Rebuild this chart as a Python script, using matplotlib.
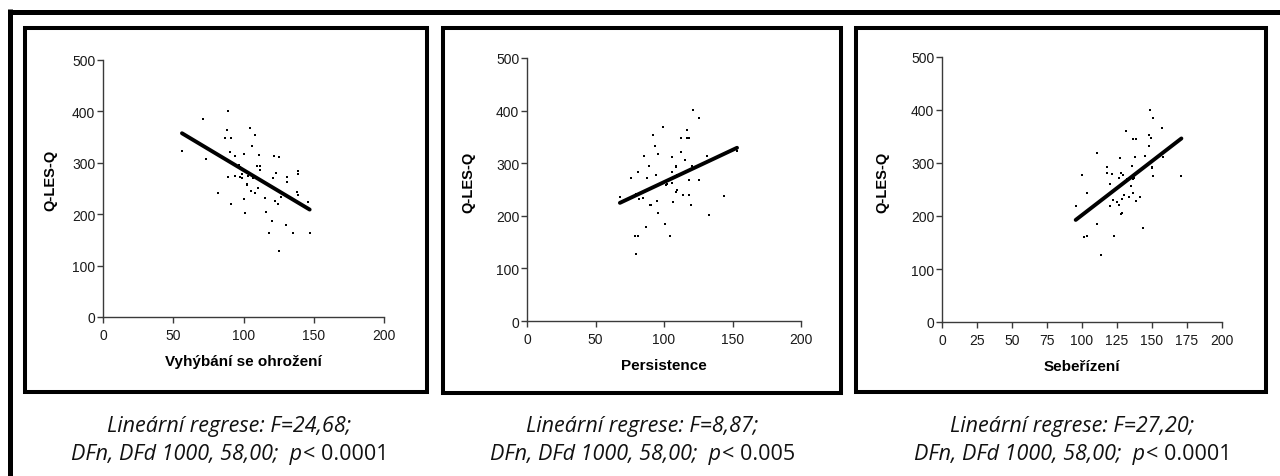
import matplotlib.pyplot as plt
from matplotlib.patches import Rectangle
from matplotlib.lines import Line2D

# --- data ---
ha_x = [56.2, 71.2, 73.1, 82.1, 89.2, 88.0, 87.1, 91.3, 90.2, 94.2, 100.1, 89.0, 91.3,
        96.8, 97.3, 94.2, 97.3, 99.2, 99.2, 100.1, 101.3, 102.3, 102.3, 103.0, 104.4,
        106.3, 108.2, 106.5, 105.1, 108.4, 110.3, 109.8, 111.5, 112.0, 111.3, 115.3,
        116.3, 120.3, 118.4, 121.9, 125.0, 121.2, 123.1, 122.2, 124.3, 125.3, 126.5,
        130.2, 131.2, 131.2, 135.2, 138.6, 138.6, 138.1, 139.0, 146.1, 147.3]
ha_y = [323, 385, 307, 241, 401, 363, 348, 348, 321, 314, 317, 273, 220,
        296, 291, 275, 273, 278, 270, 229, 203, 258, 256, 275, 368,
        333, 354, 271, 245, 241, 251, 293, 293, 286, 315, 232,
        205, 186, 163, 313, 311, 271, 280, 226, 220, 128, 234,
        179, 273, 263, 163, 284, 279, 244, 238, 223, 163]

ps_x = [67.8, 75.8, 80.7, 79.5, 81.9, 84.8, 78.7, 80.9, 79.5, 86.8, 85.5, 88.7, 87.7,
        89.7, 90.4, 91.9, 93.6, 95.5, 94.5, 94.8, 95.5, 99.6, 100.6, 101.6, 102.3,
        104.5, 105.7, 105.7, 105.7, 106.4, 108.4, 108.4, 109.6, 108.6, 109.4, 112.5,
        112.5, 116.6, 116.6, 118.6, 115.4, 113.7, 118.6, 118.6, 119.6, 120.5, 121.5,
        125.6, 125.6, 131.5, 132.7, 143.6, 153.3]
ps_y = [235, 272, 284, 242, 232, 234, 162, 162, 128, 179, 313, 294, 271,
        221, 220, 354, 333, 317, 278, 229, 205, 368, 185, 258, 260,
        162, 311, 283, 262, 227, 294, 292, 277, 245, 249, 322,
        348, 363, 348, 348, 307, 240, 269, 240, 220, 294, 401,
        386, 269, 314, 202, 237, 324]

sr_x = [95.5, 99.8, 103.6, 101.7, 103.8, 110.5, 110.5, 113.8, 117.6, 117.6, 119.7,
        119.7, 121.4, 121.9, 122.6, 124.7, 126.8, 126.6, 126.6, 127.6, 127.8, 128.3,
        129.2, 129.7, 128.7, 131.6, 131.8, 133.5, 134.7, 135.6, 136.6, 138.7, 136.6,
        137.3, 136.1, 137.8, 138.7, 141.6, 143.5, 144.7, 147.5, 148.7, 150.6, 147.5,
        149.6, 150.1, 149.9, 150.6, 156.8, 157.5, 170.5]
sr_y = [218, 277, 243, 161, 162, 319, 185, 127, 293, 282, 260,
        219, 279, 231, 162, 226, 310, 272, 221, 282, 203, 205,
        278, 240, 233, 361, 270, 235, 256, 295, 346, 346, 243,
        272, 269, 312, 228, 236, 178, 314, 353, 400, 385, 332,
        348, 292, 290, 275, 366, 312, 275]

# regression line end points
ha_fit_x = [56.2, 147.1]
ha_fit_y = [357.5, 209.0]
ps_fit_x = [67.8, 153.3]
ps_fit_y = [224.6, 329.3]
sr_fit_x = [95.5, 171.0]
sr_fit_y = [192.6, 346.3]

x_labels = ['Vyhýbání se ohrožení', 'Persistence', 'Sebeřízení']
x_ticks = [[0, 50, 100, 150, 200], [0, 50, 100, 150, 200],
           [0, 25, 50, 75, 100, 125, 150, 175, 200]]
y_ticks = [0, 100, 200, 300, 400, 500]
cap_line1 = ['Lineární regrese: F=24,68;', 'Lineární regrese: F=8,87;',
             'Lineární regrese: F=27,20;']
cap_p = ['< 0.0001', '< 0.005', '< 0.0001']

W, H = 1280, 477
plt.rcParams['font.family'] = ['Liberation Sans', 'DejaVu Sans']
fig = plt.figure(figsize=(W / 100, H / 100), dpi=100, facecolor='white')

def px(x, y):
    return x / W, 1 - y / H

# outer frame (top + left)
fig.add_artist(Line2D([10 / W, 1], [1 - 12.5 / H] * 2, color='k', lw=3.6,
                      solid_capstyle='butt'))
fig.add_artist(Line2D([10 / W] * 2, [1 - 10 / H, 0], color='k', lw=3.6,
                      solid_capstyle='butt'))

boxes = [(24.5, 28.7, 427, 393), (443.3, 28.5, 841.3, 393.7), (856, 28.7, 1266.3, 393)]
for x0, y0, x1, y1 in boxes:
    fig.add_artist(Rectangle(px(x0, y1), (x1 - x0) / W, (y1 - y0) / H,
                             fill=False, ec='k', lw=2.9, joinstyle='miter'))

ax_rects = [(103, 61, 384, 318), (527, 59, 801, 322), (942, 58, 1222, 323)]
ylab_x = [-0.189, -0.215, -0.214]
ylab_y = [0.537, 0.532, 0.532]
xs = [ha_x, ps_x, sr_x]
ys = [ha_y, ps_y, sr_y]
fx = [ha_fit_x, ps_fit_x, sr_fit_x]
fy = [ha_fit_y, ps_fit_y, sr_fit_y]
spine_c = '#3a3a3a'

for i in range(3):
    l, t, r, b = ax_rects[i]
    ax = fig.add_axes([l / W, 1 - b / H, (r - l) / W, (b - t) / H])
    ax.plot(xs[i], ys[i], 's', ms=1.7, color='k', mew=0)
    ax.plot(fx[i], fy[i], '-', color='k', lw=2.8, solid_capstyle='round')
    ax.set_xlim(0, 200)
    ax.set_ylim(0, 500)
    ax.set_xticks(x_ticks[i])
    ax.set_yticks(y_ticks)
    for s in ['top', 'right']:
        ax.spines[s].set_visible(False)
    for s in ['left', 'bottom']:
        ax.spines[s].set_color(spine_c)
        ax.spines[s].set_linewidth(1.0)
    ax.tick_params(axis='both', direction='out', length=4, width=1.0,
                   color=spine_c, labelsize=10, labelcolor='#1a1a1a')
    ax.tick_params(axis='y', pad=1.5)
    ax.tick_params(axis='x', pad=4)
    ax.set_xlabel(x_labels[i], fontsize=11, fontweight='bold', va='center')
    ax.xaxis.set_label_coords(0.5, -44 / (b - t))
    ax.set_ylabel('Q-LES-Q', fontsize=10.5, fontweight='bold', va='center')
    ax.yaxis.set_label_coords(ylab_x[i], ylab_y[i])
    ax.patch.set_alpha(0)

# captions
cap_cx = [229, 642, 1072]
cap_font = 'Open Sans'
cap_size = 15.5
fig.canvas.draw()
rend = fig.canvas.get_renderer()
for i in range(3):
    fig.text(cap_cx[i] / W, 1 - 432 / H, cap_line1[i], family=cap_font, style='italic',
             fontsize=cap_size, ha='center', va='baseline', color='#111111')
    t1 = fig.text(0, 1 - 460 / H, 'DFn, DFd 1000, 58,00;  p', family=cap_font,
                  style='italic', fontsize=cap_size, va='baseline', color='#111111')
    t2 = fig.text(0, 1 - 460 / H, cap_p[i], family=cap_font, fontsize=cap_size,
                  va='baseline', color='#111111')
    w1 = t1.get_window_extent(rend).width
    w2 = t2.get_window_extent(rend).width
    start = cap_cx[i] - (w1 + w2) / 2
    t1.set_x(start / W)
    t2.set_x((start + w1 + 1) / W)

fig.savefig('out.png', dpi=100, facecolor='white')
